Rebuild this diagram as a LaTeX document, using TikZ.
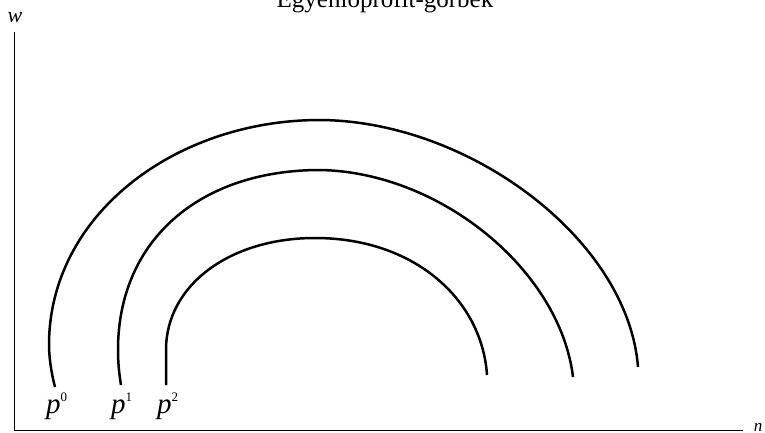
\documentclass[tikz,border=0pt]{standalone}
\usepackage{fontspec}
\setmainfont{Liberation Serif}
\newcommand{\supnum}[1]{\raisebox{12pt}{\fontsize{13}{13}\selectfont\upshape #1}}
\begin{document}
\begin{tikzpicture}[x=1pt,y=-1pt,
  curve/.style={line width=2.5pt,line cap=butt},
  axis/.style={line width=1pt},
  lab/.style={font=\fontsize{29}{29}\selectfont\itshape,inner sep=0pt,anchor=base west}]
\useasboundingbox (0,0) rectangle (765,433);
\coordinate (o) at (14,430);
\coordinate (ytop) at (14,32);
\coordinate (xend) at (743,430);
\draw[axis] (ytop) -- (o) -- (xend);
\node[inner sep=0pt,anchor=base,font=\fontsize{25}{25}\selectfont] (title) at (385,8) {Egyenlőprofit-görbék};
\node[inner sep=0pt,anchor=base,font=\fontsize{22}{22}\selectfont\itshape] (w) at (15,23) {w};
\node[inner sep=0pt,anchor=base,font=\fontsize{17}{17}\selectfont\itshape] (n) at (758,431) {n};
\draw[curve] (55,387) .. controls (51,372) and (49,356) .. (49,345)
  .. controls (49,215) and (175,120) .. (320,120)
  .. controls (470,121) and (628,240) .. (638,367);
\draw[curve] (121,385) .. controls (119,373) and (118,362) .. (118,350)
  .. controls (118,240) and (200,170) .. (320,170)
  .. controls (440,172) and (560,270) .. (573,377);
\draw[curve] (166,385) -- (166,350)
  .. controls (166,285) and (230,238) .. (315,238)
  .. controls (415,238) and (482,300) .. (487,375);
\node[lab] (p0) at (46,413) {p\supnum{0}};
\node[lab] (p1) at (111,413) {p\supnum{1}};
\node[lab] (p2) at (157,413) {p\supnum{2}};
\end{tikzpicture}
\end{document}
